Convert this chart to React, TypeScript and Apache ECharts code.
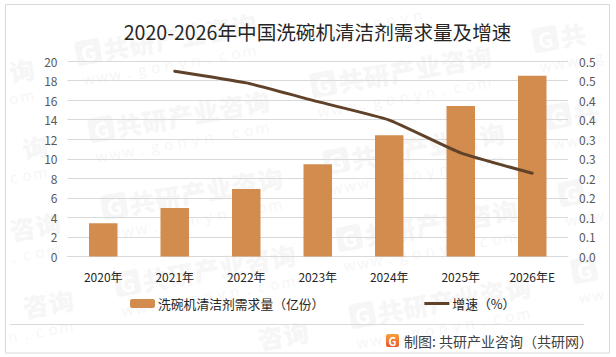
import React, { useEffect, useRef } from "react";
import * as echarts from "echarts";

const categories = ["2020年", "2021年", "2022年", "2023年", "2024年", "2025年", "2026年E"];
const demandValues = [3.4, 4.95, 6.9, 9.45, 12.4, 15.4, 18.5];
const growthValues = [null, 0.474, 0.444, 0.396, 0.349, 0.265, 0.213];
const rightTickLabels = ["0.0", "0.1", "0.1", "0.2", "0.2", "0.3", "0.3", "0.4", "0.4", "0.5", "0.5"];
const titleText = "2020-2026年中国洗碗机清洁剂需求量及增速";
const barName = "洗碗机清洁剂需求量（亿份）";
const lineName = "增速（%）";
const footerText = "制图: 共研产业咨询（共研网）";
const brandChars = ["共", "研", "产", "业", "咨", "询"];
const siteChars = "www.gonyn.com".split("");

const CJK = '"Noto Sans CJK SC", "Noto Sans", sans-serif';
const MARK = "#f6f6f6";
const TILT = (10 * Math.PI) / 180;

// A mark's glyph is drawn only if it lies wholly inside the picture.
function fits(cx: number, cy: number, px: number, py: number, half: number) {
  const sx = cx + px * Math.cos(TILT) + py * Math.sin(TILT);
  const sy = cy - px * Math.sin(TILT) + py * Math.cos(TILT);
  return sx > half + 2 && sx < 616 - half - 2 && sy > half + 2 && sy < 357 - half - 2;
}

function watermark(cx: number, cy: number) {
  const children: any[] = [];
  if (fits(cx, cy, -77.5, -2.5, 17)) {
    children.push(
      { type: "rect", x: -90, y: -15, shape: { x: 0, y: 0, width: 25, height: 25, r: 4 }, style: { fill: MARK } },
      { type: "text", x: -77.5, y: -2.5, style: { text: "G", fill: "#fff", font: `bold 21px ${CJK}`, align: "center", verticalAlign: "middle" } },
    );
  }
  brandChars.forEach((c, i) => {
    const px = -49.5 + i * 26;
    if (!fits(cx, cy, px, -2.5, 17)) return;
    children.push({
      type: "text", x: px, y: -2.5,
      style: { text: c, fill: MARK, font: `900 25px ${CJK}`, align: "center", verticalAlign: "middle" },
    });
  });
  siteChars.forEach((c, i) => {
    const px = -82 + i * 13.6;
    if (!fits(cx, cy, px, 24, 10)) return;
    children.push({
      type: "text", x: px, y: 24,
      style: { text: c, fill: MARK, font: `15px "Open Sans", sans-serif`, align: "center", verticalAlign: "middle" },
    });
  });
  return { type: "group", x: cx, y: cy, rotation: TILT, z: -10, silent: true, children };
}

function watermarks() {
  const out: any[] = [];
  for (let col = -1; col <= 2; col++) {
    for (let row = -1; row <= 4; row++) {
      out.push(watermark(178 + col * 222 + row * 13, 118 - col * 45 + row * 77));
    }
  }
  return out;
}

export default function App() {
  const ref = useRef<HTMLDivElement>(null);
  useEffect(() => {
    const chart = echarts.init(ref.current!, undefined, { renderer: "svg" });
    chart.setOption({
      animation: false,
      backgroundColor: "#ffffff",
      title: {
        text: titleText, left: 312.5, top: 17, textAlign: "center",
        textStyle: { fontFamily: CJK, fontSize: 19.6, fontWeight: "normal", color: "#262626" },
      },
      grid: { left: 67.5, right: 48, top: 61, bottom: 100.5, containLabel: false },
      legend: {
        left: 125, top: 292, itemWidth: 25, itemHeight: 9, itemGap: 100,
        textStyle: { fontFamily: CJK, fontSize: 12.8, color: "#262626", padding: [0, 0, 0, -2] },
        data: [
          { name: barName },
          { name: lineName, icon: "path://M0 3h25v3H0z M0 0h0v0z M0 9h0v0z" },
        ],
      },
      xAxis: {
        type: "category", data: categories,
        axisTick: { show: false },
        axisLine: { lineStyle: { color: "#d9d9d9", width: 1 } },
        axisLabel: { margin: 14, fontFamily: CJK, fontSize: 12, color: "#262626" },
      },
      yAxis: [
        {
          type: "value", min: 0, max: 20, interval: 2,
          axisLine: { show: false }, axisTick: { show: false },
          splitLine: { lineStyle: { color: "#d9d9d9", width: 1 } },
          axisLabel: { margin: 10, fontFamily: CJK, fontSize: 12, color: "#595959" },
        },
        {
          type: "value", min: 0, max: 0.5, interval: 0.05,
          axisLine: { show: false }, axisTick: { show: false }, splitLine: { show: false },
          axisLabel: {
            margin: 11, fontFamily: CJK, fontSize: 12, color: "#595959",
            formatter: (v: number) => rightTickLabels[Math.round(v / 0.05)],
          },
        },
      ],
      series: [
        {
          name: barName, type: "bar", data: demandValues, barWidth: 28.5,
          itemStyle: { color: "#d28c4e" },
        },
        {
          name: lineName, type: "line", yAxisIndex: 1, data: growthValues, smooth: 0.15,
          symbol: "none", connectNulls: false,
          lineStyle: { color: "#5f4229", width: 3, cap: "round" },
          itemStyle: { color: "#5f4229" },
        },
      ],
      graphic: [
        ...watermarks(),
        { type: "rect", z: 50, shape: { x: 5.5, y: 4.5, width: 604, height: 348.5 }, style: { fill: "none", stroke: "#d9d9d9", lineWidth: 1 } },
        { type: "line", z: 50, shape: { x1: 10, y1: 324.5, x2: 584, y2: 324.5 }, style: { stroke: "#d9d9d9", lineWidth: 1 } },
        {
          type: "rect", z: 50, shape: { x: 386, y: 334, width: 13, height: 13, r: 2 },
          style: { fill: new echarts.graphic.LinearGradient(0, 0, 0, 1, [{ offset: 0, color: "#f7a23b" }, { offset: 1, color: "#e8562a" }]) },
        },
        { type: "text", z: 51, x: 392.5, y: 340.5, style: { text: "G", fill: "#fff", font: `bold 11px ${CJK}`, align: "center", verticalAlign: "middle" } },
        { type: "text", z: 51, x: 404, y: 341, style: { text: footerText, fill: "#404040", font: `14px ${CJK}`, align: "left", verticalAlign: "middle" } },
      ],
    });
    return () => chart.dispose();
  }, []);
  return <div ref={ref} style={{ position: "absolute", left: 0, top: 0, width: 616, height: 357 }} />;
}
